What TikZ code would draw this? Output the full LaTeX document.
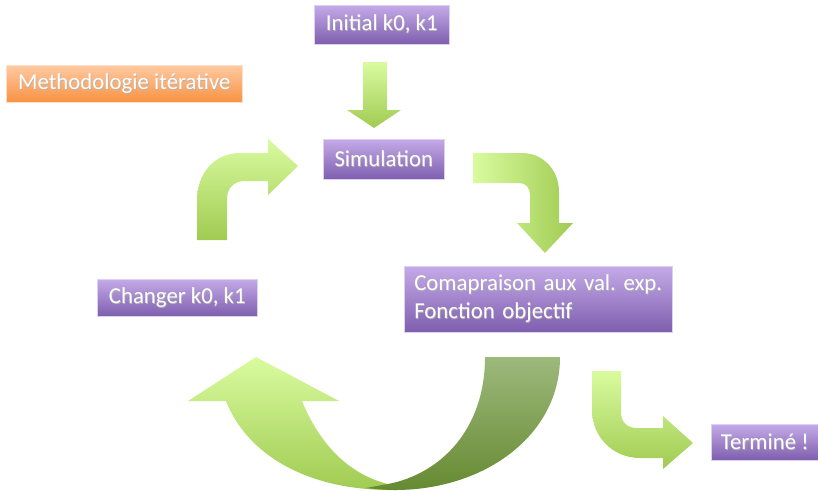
\documentclass[tikz,border=0pt]{standalone}
\usepackage{fontspec}
\setmainfont{Carlito}
\frenchspacing
\definecolor{ptop}{RGB}{196,170,232}
\definecolor{pbot}{RGB}{126,94,174}
\definecolor{pline}{RGB}{222,208,242}
\definecolor{otop}{RGB}{255,202,162}
\definecolor{obot}{RGB}{248,146,66}
\definecolor{gtop}{RGB}{217,251,159}
\definecolor{gbot}{RGB}{160,203,82}
\definecolor{dtop}{RGB}{157,185,124}
\definecolor{dbot}{RGB}{102,138,50}
\newcommand\shtext[1]{\leavevmode\rlap{\kern0.6pt\raisebox{-0.6pt}{\color{black!30}#1}}#1}
\tikzset{
  pbox/.style={draw=pline, line width=0.6pt, top color=ptop, bottom color=pbot,
    text=white, font=\fontsize{22.8}{28}\selectfont, inner sep=0pt, anchor=north west},
  obox/.style={draw=otop!60!white, line width=0.6pt, top color=otop, bottom color=obot,
    text=white, font=\fontsize{22.8}{28}\selectfont, inner sep=0pt, anchor=north west},
  garrow/.style={top color=gtop, bottom color=gbot, draw=none},
  garrowh/.style={left color=gtop, right color=gbot, draw=none},
  darrow/.style={top color=dtop, bottom color=dbot, draw=none}
}
\begin{document}
\begin{tikzpicture}[x=1pt,y=-1pt]
\useasboundingbox (0,0) rectangle (818,490);

% title
\node[obox, minimum width=236pt, minimum height=37pt] (title) at (6,65) {\shtext{Methodologie itérative}};

% boxes
\node[pbox, minimum width=135pt, minimum height=39pt] (init) at (314,5) {\shtext{Initial k0, k1}};
\node[pbox, minimum width=121pt, minimum height=40pt] (sim) at (323,139) {\shtext{Simulation}};
\node[pbox, minimum width=268pt, minimum height=66pt, align=left, text width=268pt] (comp) at (404,266)
  {\hspace*{10pt}\shtext{Comapraison aux val. exp.}\\\hspace*{10pt}\shtext{Fonction objectif}};
\node[pbox, minimum width=160pt, minimum height=37pt] (chg) at (97,279) {\shtext{Changer k0, k1}};
\node[pbox, minimum width=107pt, minimum height=36pt] (term) at (711,424) {\shtext{Terminé !}};

% down arrow init -> simulation
\shade[garrow] (363,62) -- (387,62) -- (387,110) -- (401,110) -- (374,128) -- (347,110) -- (363,110) -- cycle;

% bent arrow changer -> simulation
\shade[garrow] (197,240) -- (197,200) .. controls (197,174) and (214,153) .. (240,153) -- (268,153) -- (268,139)
  -- (298,166) -- (268,195) -- (268,181) -- (245,181) .. controls (234,181) and (227,188) .. (227,199)
  -- (227,240) -- cycle;

% bent arrow simulation -> comparaison
\shade[garrowh] (473,153) -- (522,153) .. controls (543,153) and (559,170) .. (559,192) -- (559,223)
  -- (573,223) -- (545,253) -- (517,223) -- (530,223) -- (530,195) .. controls (530,188) and (526,183) .. (519,183)
  -- (473,183) -- cycle;

% bent arrow comparaison -> termine
\shade[garrow] (592,371) -- (621,371) -- (621,412) .. controls (621,422) and (627,428) .. (637,428) -- (663,428)
  -- (663,416) -- (693,443) -- (663,469) -- (663,458) -- (640,458) .. controls (613,458) and (592,437) .. (592,410) -- cycle;

% big U arrow: light part
\shade[garrow] (188,401) -- (256,357) -- (339,401) -- (302,401) .. controls (320,445) and (350,476) .. (392,485)
  -- (398,490) -- (388,490) .. controls (300,489) and (245,450) .. (226,401) -- cycle;
% big U arrow: dark part
\shade[darrow] (485,357) -- (560,357) .. controls (560,435) and (485,490) .. (395,490)
  .. controls (385,490) and (375,489) .. (366,488) -- (388,484) .. controls (440,474) and (485,430) .. (485,357) -- cycle;
\end{tikzpicture}
\end{document}
